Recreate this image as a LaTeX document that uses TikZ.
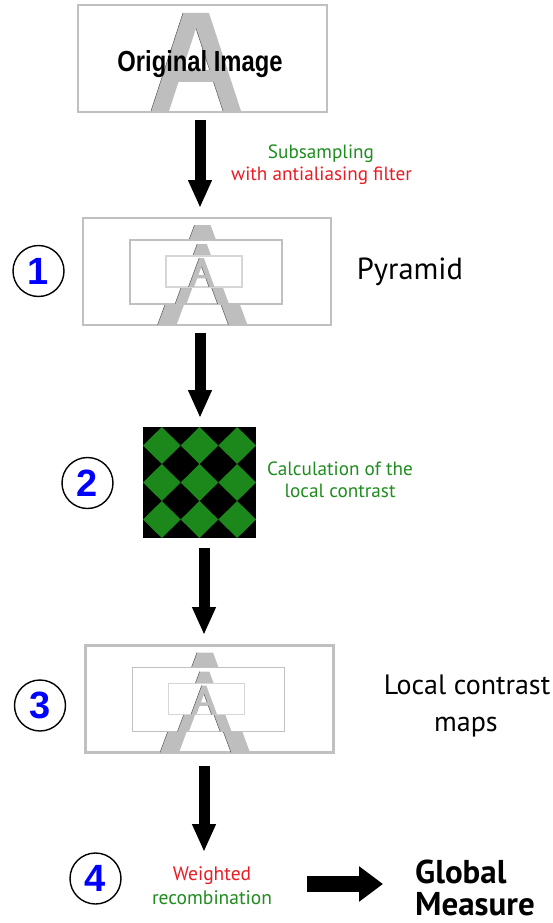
\documentclass[tikz,border=0pt]{standalone}
\usepackage{fontspec}
\setmainfont{PT Sans}
\newfontfamily\arialf{Liberation Sans}
\usetikzlibrary{arrows.meta}
\definecolor{boxgray}{RGB}{192,192,192}
\definecolor{coregray}{RGB}{214,214,214}
\definecolor{agray}{RGB}{190,190,190}
\definecolor{aedge}{RGB}{90,90,90}
\definecolor{txtgreen}{RGB}{30,140,30}
\definecolor{txtred}{RGB}{232,28,36}
\definecolor{chkgreen}{RGB}{28,136,28}
\definecolor{numblue}{RGB}{0,0,255}

% letter A of the original image
\newcommand{\glyphA}[3]{%
  \begin{scope}[shift={(#1,#2)},scale=#3]
    \fill[agray,even odd rule] (-13,0)--(13,0)--(45,98)--(27,98)--(17.5,69)--(-17.5,69)--(-27,98)--(-45,98)--cycle
      (0,15.4)--(13.6,57)--(-13.6,57)--cycle;
    \draw[aedge,line width=0.5pt] (-13,0)--(-45,98) (0,15.4)--(13.6,57) (17.5,69)--(27,98);
  \end{scope}}

% narrower-topped letter A of the pyramids
\newcommand{\pyrA}[3]{%
  \begin{scope}[shift={(#1,#2)},scale=#3]
    \fill[agray,even odd rule] (-8,0)--(8,0)--(45,100)--(26,100)--(14.9,70)--(-14.9,70)--(-26,100)--(-45,100)--cycle
      (0,29.7)--(10.5,58)--(-10.5,58)--cycle;
    \draw[aedge,line width=0.5pt] (-8,0)--(-45,100) (0,29.7)--(10.5,58) (14.9,70)--(26,100);
  \end{scope}}

\newcommand{\insideclip}[1]{\clip ([shift={(1.1,-1.1)}]#1.south west) rectangle ([shift={(-1.1,1.1)}]#1.north east);}

\newcommand{\pyramidbox}[3]{%
  \node[obox, minimum width=248pt, minimum height=107pt] (#1out) at ({207+#2},{271.5+#3}) {};
  \begin{scope}\insideclip{#1out}\pyrA{{202.5+#2}}{{225+#3}}{1}\end{scope}
  \node[ibox, minimum width=152pt, minimum height=64pt] (#1in) at ({206+#2},{272+#3}) {};
  \begin{scope}\insideclip{#1in}\pyrA{{202+#2}}{{244+#3}}{0.6}\end{scope}
  \node[cbox, minimum width=76pt, minimum height=31pt] (#1core) at ({204+#2},{271.5+#3}) {};
  \begin{scope}\insideclip{#1core}\pyrA{{201.5+#2}}{{258+#3}}{0.29}\end{scope}
}

\tikzset{
  obox/.style={draw=boxgray, line width=2.2pt, fill=white, inner sep=0pt},
  ibox/.style={draw=boxgray, line width=1.8pt, fill=white, inner sep=0pt},
  cbox/.style={draw=coregray, line width=1.2pt, fill=white, inner sep=0pt},
  bigarrow/.style={line width=11pt, -{Triangle[width=22pt,length=28pt]}},
  widearrow/.style={line width=16pt, -{Triangle[width=34pt,length=24pt]}},
  numcircle/.style={circle, draw=black, line width=1.4pt, minimum size=51pt, inner sep=0pt,
    text=numblue, font=\arialf\bfseries\fontsize{38}{40}\selectfont},
  smalltxt/.style={anchor=base, font=\fontsize{19.2}{22}\selectfont},
  bigtxt/.style={anchor=base, font=\fontsize{28}{32}\selectfont},
  globtxt/.style={anchor=base west, inner sep=0pt, font=\bfseries\fontsize{33}{36}\selectfont},
}

\begin{document}
\begin{tikzpicture}[x=1pt,y=-1pt]
\useasboundingbox (0,0) rectangle (553,923);

% original image
\node[obox, minimum width=249pt, minimum height=106.7pt] (orig) at (202.8,58.5) {};
\begin{scope}\insideclip{orig}\glyphA{196}{13}{1}\end{scope}
\node[anchor=base, inner sep=0pt, font=\arialf\bfseries\fontsize{29}{30}\selectfont] (origtxt) at (200,72) {\scalebox{0.82}[1]{Original Image}};

% arrow 1
\coordinate (a1s) at (200,120);
\coordinate (a1e) at (200,208);
\draw[bigarrow] (a1s) -- (a1e);
\node[smalltxt, text=txtgreen] (sub1) at (321,158) {Subsampling};
\node[smalltxt, text=txtred] (sub2) at (321.5,180) {with antialiasing filter};

% pyramid 1
\pyramidbox{p}{0}{0}
\node[numcircle] (c1) at (38.5,271) {1};
\node[bigtxt, font=\fontsize{30.5}{34}\selectfont] (pyrtxt) at (410,279) {Pyramid};

% arrow 2
\coordinate (a2s) at (200,333);
\coordinate (a2e) at (200,418);
\draw[bigarrow] (a2s) -- (a2e);

% checkerboard
\node[fill=black, minimum width=113pt, minimum height=111pt, inner sep=0pt] (check) at (199.5,482.5) {};
\foreach \i in {0,1,2}{
  \foreach \j in {0,1,2}{
    \pgfmathsetmacro{\cx}{143+37.667*(\i+0.5)}
    \pgfmathsetmacro{\cy}{427+37*(\j+0.5)}
    \fill[chkgreen] (\cx-18.83,\cy) -- (\cx,\cy-18.5) -- (\cx+18.83,\cy) -- (\cx,\cy+18.5) -- cycle;
  }
}
\node[numcircle] (c2) at (87.5,483) {2};
\node[smalltxt, text=txtgreen] (calc1) at (340,475) {Calculation of the};
\node[smalltxt, text=txtgreen] (calc2) at (340,497) {local contrast};

% arrow 3
\coordinate (a3s) at (204,548);
\coordinate (a3e) at (204,635);
\draw[bigarrow] (a3s) -- (a3e);

% pyramid 3
\pyramidbox{q}{2.5}{427.5}
\node[numcircle] (c3) at (40,705.5) {3};
\node[bigtxt] (lc1) at (467,694) {Local contrast};
\node[bigtxt] (lc2) at (466,731) {maps};

% arrow 4
\coordinate (a4s) at (204,766);
\coordinate (a4e) at (204,852);
\draw[bigarrow] (a4s) -- (a4e);

\node[numcircle] (c4) at (95.5,878.5) {4};
\node[smalltxt, text=txtred, font=\fontsize{19.5}{22}\selectfont] (w1) at (212,880) {Weighted};
\node[smalltxt, text=txtgreen, font=\fontsize{19.5}{22}\selectfont] (w2) at (212,904) {recombination};

\coordinate (h1s) at (307,884);
\coordinate (h1e) at (383,884);
\draw[widearrow] (h1s) -- (h1e);

\node[globtxt] (g1) at (415,883) {Global};
\node[globtxt] (g2) at (415,915) {Measure};
\end{tikzpicture}
\end{document}
